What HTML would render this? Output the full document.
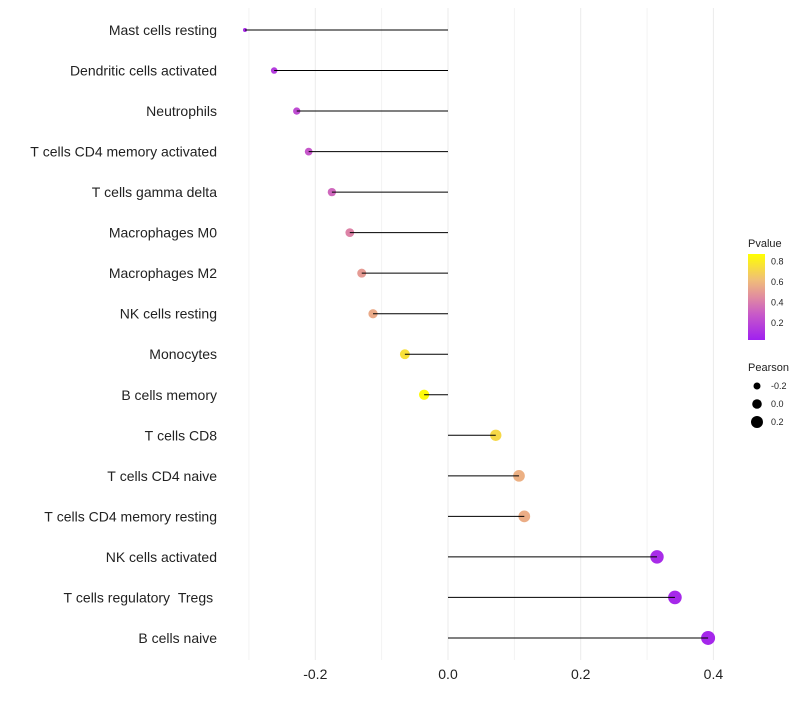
<!DOCTYPE html>
<html><head><meta charset="utf-8"><style>
body{margin:0;background:#fff;font-family:"Liberation Sans",sans-serif}
text{white-space:pre}
</style></head><body>
<svg id="chart" width="800" height="700" xmlns="http://www.w3.org/2000/svg" font-family="Liberation Sans, sans-serif"></svg>
<script>
const categories=["Mast cells resting","Dendritic cells activated","Neutrophils","T cells CD4 memory activated","T cells gamma delta","Macrophages M0","Macrophages M2","NK cells resting","Monocytes","B cells memory","T cells CD8","T cells CD4 naive","T cells CD4 memory resting","NK cells activated","T cells regulatory  Tregs ","B cells naive"];
const pearson=[-0.306,-0.262,-0.228,-0.21,-0.175,-0.148,-0.13,-0.113,-0.065,-0.036,0.072,0.107,0.115,0.315,0.342,0.392];
const pvalue=[0.08,0.15,0.22,0.27,0.33,0.42,0.5,0.55,0.75,0.85,0.72,0.57,0.56,0.08,0.07,0.06];
const xTicks=[-0.2,0,0.2,0.4];
const xTickLabels=["-0.2","0.0","0.2","0.4"];
const pTicks=[0.2,0.4,0.6,0.8];
const sizeTicks=[-0.2,0,0.2];

const svg=document.getElementById('chart');
const NS="http://www.w3.org/2000/svg";
function mk(t,a,p){const e=document.createElementNS(NS,t);for(const k in a)e.setAttribute(k,a[k]);(p||svg).appendChild(e);return e;}
const x=v=>448+v*663.5;
const y=i=>30+i*40.53;
const rad=v=>2+5*Math.sqrt(Math.max(0,v+0.306)/0.7);
const stops=[[0,[160,32,240]],[0.3,[200,90,200]],[0.5,[225,140,160]],[0.7,[240,190,120]],[1,[255,255,0]]];
function col(p){const t=Math.max(0,Math.min(1,(p-0.03)/0.84));for(let i=1;i<stops.length;i++){if(t<=stops[i][0]){const a=stops[i-1],b=stops[i],f=(t-a[0])/(b[0]-a[0]);return 'rgb('+a[1].map((c,j)=>Math.round(c+(b[1][j]-c)*f)).join(',')+')';}}return 'rgb(255,255,0)';}

for(let v=-0.3;v<=0.41;v+=0.1){const g=mk('line',{x1:x(v),x2:x(v),y1:8,y2:660,stroke:Math.abs(Math.round(v*10)%2)===0?'#ebebeb':'#f3f3f3','stroke-width':1});
}
xTicks.forEach((v,i)=>{const t=mk('text',{x:x(v),y:679,'text-anchor':'middle','font-size':14,fill:'#222'});t.textContent=xTickLabels[i];
});
categories.forEach((c,i)=>{
const t=mk('text',{x:217,y:y(i)+5,'text-anchor':'end','font-size':14,fill:'#222','xml:space':'preserve'});t.textContent=c.replace(/ /g,'\u00a0');

const p=mk('circle',{cx:x(pearson[i]),cy:y(i),r:rad(pearson[i]),fill:col(pvalue[i])});

const l=mk('line',{x1:x(0),x2:x(pearson[i]),y1:y(i),y2:y(i),stroke:'#000','stroke-width':1});

});
const lt=mk('text',{x:748,y:247,'font-size':11,fill:'#222'});lt.textContent='Pvalue';

const defs=mk('defs',{});const lg=mk('linearGradient',{id:'pg',x1:0,y1:1,x2:0,y2:0},defs);
stops.forEach(s=>mk('stop',{offset:s[0],'stop-color':'rgb('+s[1].join(',')+')'},lg));
const cb=mk('rect',{x:748,y:254,width:17,height:86,fill:'url(#pg)'});

const py=p=>340-(p-0.03)/0.84*86;
pTicks.forEach(p=>{const t=mk('text',{x:771,y:py(p)+3.5,'font-size':9,fill:'#222'});t.textContent=p.toFixed(1);
});
const st=mk('text',{x:748,y:371,'font-size':11,fill:'#222'});st.textContent='Pearson';

const legR=[3.5,4.8,6];
sizeTicks.forEach((v,i)=>{const c=mk('circle',{cx:757,cy:386+i*18,r:legR[i],fill:'#000'});

const t=mk('text',{x:771,y:389+i*18,'font-size':9,fill:'#222'});t.textContent=v.toFixed(1);
});
</script>
</body></html>
